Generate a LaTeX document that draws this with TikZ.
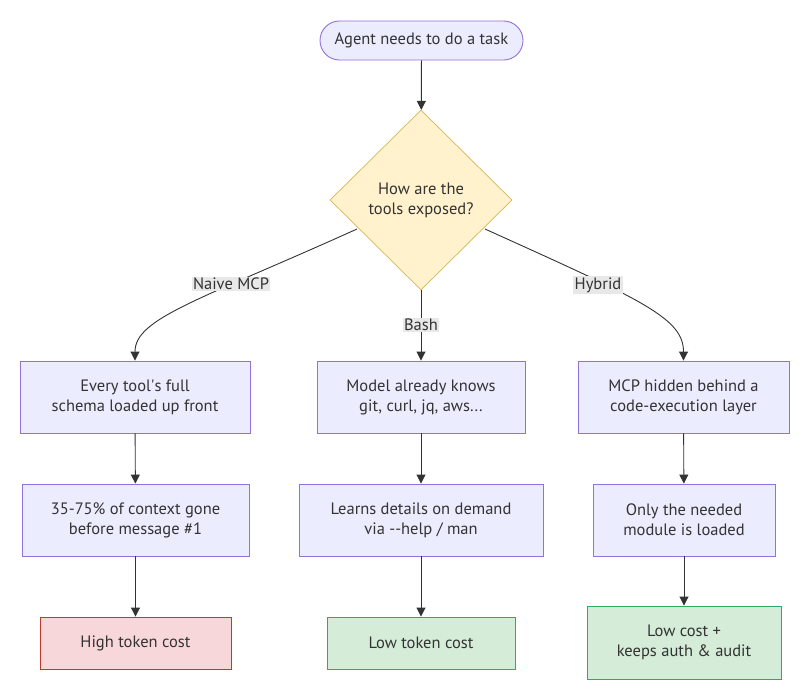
\documentclass[tikz,border=0pt]{standalone}
\usepackage{fontspec}
\setmainfont{PT Sans}
\usetikzlibrary{shapes.geometric,shapes.misc,arrows.meta}
\definecolor{txt}{HTML}{333333}
\definecolor{lnc}{HTML}{333333}
\definecolor{pfill}{HTML}{ECECFF}
\definecolor{pdraw}{HTML}{9370DB}
\definecolor{yfill}{HTML}{FFF2CC}
\definecolor{ydraw}{HTML}{D6B656}
\definecolor{rfill}{HTML}{F8D7DA}
\definecolor{rdraw}{HTML}{C0392B}
\definecolor{gfill}{HTML}{D5ECD9}
\definecolor{gdraw}{HTML}{27AE60}
\definecolor{lblbg}{HTML}{E8E8E8}
\tikzset{
  base/.style={font=\fontsize{16.5}{20}\selectfont, text=txt, align=center, inner sep=0pt, line width=0.9pt},
  pbox/.style={base, rectangle, draw=pdraw, fill=pfill},
  rbox/.style={base, rectangle, draw=rdraw, fill=rfill},
  gbox/.style={base, rectangle, draw=gdraw, fill=gfill},
  conn/.style={draw=lnc, line width=0.9pt, -{Triangle[length=9pt,width=9pt]}},
  lbl/.style={font=\fontsize{16.5}{20}\selectfont, text=txt, fill=lblbg, inner sep=1.5pt}
}
\begin{document}
\begin{tikzpicture}[x=1pt,y=-1pt]
\useasboundingbox (0,0) rectangle (809,699);
\node[base, rounded rectangle, draw=pdraw, fill=pfill, minimum width=203pt, minimum height=39pt] (start) at (421.5,40.5) {Agent needs to do a task};
\node[base, diamond, draw=ydraw, fill=yfill, minimum width=182pt, minimum height=180pt, line width=0.7pt] (q) at (421,200) {How are the\\tools exposed?};
\node[pbox, minimum width=230pt, minimum height=72pt] (a1) at (135,397) {Every tool\textquotesingle s full\\schema loaded up front};
\node[pbox, minimum width=208pt, minimum height=72pt] (b1) at (421,397) {Model already knows\\git, curl, jq, aws...};
\node[pbox, minimum width=211pt, minimum height=72pt] (c1) at (683.5,397) {MCP hidden behind a\\code-execution layer};
\node[pbox, minimum width=227pt, minimum height=72pt] (a2) at (135.5,520) {35-75\% of context gone\\before message \#1};
\node[pbox, minimum width=244pt, minimum height=72pt] (b2) at (421,520) {Learns details on demand\\via -{}-help / man};
\node[pbox, minimum width=182pt, minimum height=72pt] (c2) at (684,520) {Only the needed\\module is loaded};
\node[rbox, minimum width=191pt, minimum height=52pt] (a3) at (135.5,643) {High token cost};
\node[gbox, minimum width=188pt, minimum height=52pt] (b3) at (421,643) {Low token cost};
\node[gbox, minimum width=194pt, minimum height=73pt] (c3) at (684,642.5) {Low cost +\\keeps auth \& audit};
\coordinate (qa) at (357,229);
\coordinate (qc) at (485,229);
\draw[conn] (start) -- (q);
\draw[conn] (qa) .. controls (200,300) and (135,318) .. (a1.north);
\draw[conn] (q) -- (b1);
\draw[conn] (qc) .. controls (642,300) and (683.5,318) .. (c1.north);
\draw[conn] (a1) -- (a2);
\draw[conn] (b1) -- (b2);
\draw[conn] (c1) -- (c2);
\draw[conn] (a2) -- (a3);
\draw[conn] (b2) -- (b3);
\draw[conn] (c2) -- (c3);
\node[lbl] (la) at (231,284) {Naive MCP};
\node[lbl] (lb) at (421,325) {Bash};
\node[lbl] (lc) at (598,285) {Hybrid};
\end{tikzpicture}
\end{document}
